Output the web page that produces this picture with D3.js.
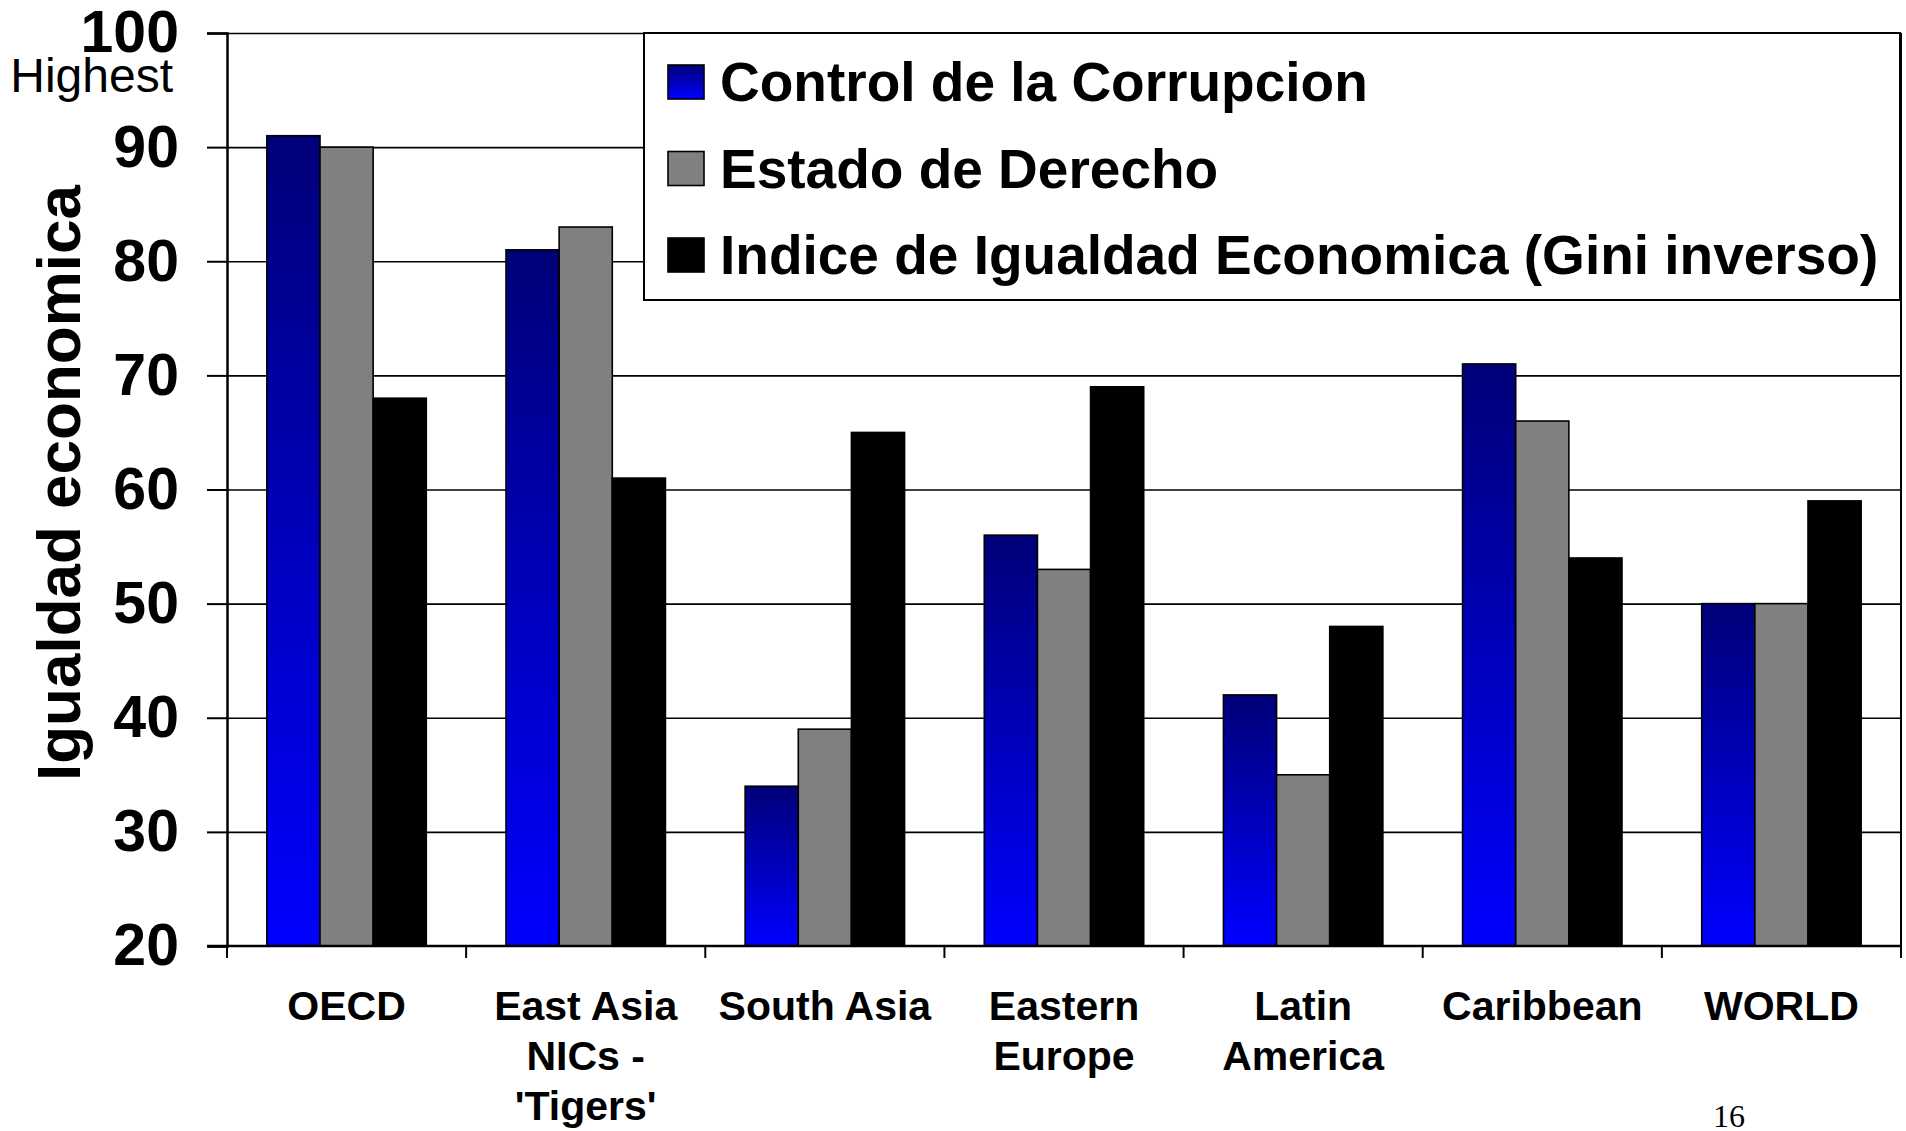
<!DOCTYPE html>
<html>
<head>
<meta charset="utf-8">
<script src="https://cdn.jsdelivr.net/npm/d3@7"></script>
<style>
  body { margin: 0; background: #fff; }
  text { font-family: "Liberation Sans", Arial, sans-serif; }
</style>
</head>
<body>
<div id="chart"></div>
<script>
// data
const categories = ['OECD', "East Asia NICs - 'Tigers'", 'South Asia', 'Eastern Europe', 'Latin America', 'Caribbean', 'WORLD'];
const categoryLines = [['OECD'], ['East Asia', 'NICs -', "'Tigers'"], ['South Asia'], ['Eastern', 'Europe'], ['Latin', 'America'], ['Caribbean'], ['WORLD']];
const seriesNames = ['Control de la Corrupcion', 'Estado de Derecho', 'Indice de Igualdad Economica (Gini inverso)'];
const corrupcion = [91, 81, 34, 56, 42, 71, 50];
const derecho = [90, 83, 39, 53, 35, 66, 50];
const igualdad = [68, 61, 65, 69, 48, 54, 59];
const yTicks = [20, 30, 40, 50, 60, 70, 80, 90, 100];

const values = [corrupcion, derecho, igualdad];
const fills = ['url(#blueGrad)', '#808080', '#000000'];

const width = 1906, height = 1131;
const plotLeft = 227, plotRight = 1901, plotTop = 33, plotBottom = 946;

const svg = d3.select('#chart')
    .append('svg')
    .attr('width', width)
    .attr('height', height)
    .style('display', 'block')
    .style('background', '#fff');

// blue gradient, dark on top
const grad = svg.append('defs')
    .append('linearGradient')
    .attr('id', 'blueGrad')
    .attr('x1', 0).attr('y1', 0)
    .attr('x2', 0).attr('y2', 1);
grad.append('stop').attr('offset', 0).attr('stop-color', '#000078');
grad.append('stop').attr('offset', 1).attr('stop-color', '#0000ff');

const x0 = d3.scaleBand()
    .domain(categories)
    .range([plotLeft, plotRight])
    .padding(0);

const x1 = d3.scaleBand()
    .domain(d3.range(seriesNames.length))
    .range([0, x0.bandwidth()])
    .paddingInner(0)
    .paddingOuter(0.75);

const y = d3.scaleLinear()
    .domain([20, 100])
    .range([plotBottom, plotTop]);

// gridlines
svg.append('g')
    .attr('transform', `translate(${plotLeft},0)`)
    .call(d3.axisLeft(y).tickValues(yTicks.slice(1)).tickSize(-(plotRight - plotLeft)).tickFormat(''))
    .call(g => g.select('.domain').remove())
    .selectAll('line')
    .attr('stroke', '#000')
    .attr('stroke-width', 1.6);

// bars
const groups = svg.append('g')
    .selectAll('g')
    .data(categories)
    .join('g')
    .attr('transform', d => `translate(${x0(d)},0)`);

groups.selectAll('rect')
    .data((d, i) => values.map((s, k) => ({ k: k, v: s[i] })))
    .join('rect')
    .attr('x', d => x1(d.k))
    .attr('y', d => y(d.v))
    .attr('width', x1.bandwidth())
    .attr('height', d => plotBottom - y(d.v))
    .attr('fill', d => fills[d.k])
    .attr('stroke', '#000')
    .attr('stroke-width', 1.6);

// y axis
const yAxis = svg.append('g')
    .attr('transform', `translate(${plotLeft},0)`)
    .call(d3.axisLeft(y).tickValues(yTicks).tickSize(20).tickPadding(28));

yAxis.select('.domain')
    .attr('stroke', '#000')
    .attr('stroke-width', 2.5);
yAxis.selectAll('line')
    .attr('stroke', '#000')
    .attr('stroke-width', 2);
yAxis.selectAll('text')
    .style('font-size', '59px')
    .style('font-weight', 'bold')
    .attr('fill', '#000');

// right border of plot area
svg.append('line')
    .attr('x1', plotRight).attr('x2', plotRight)
    .attr('y1', plotTop).attr('y2', plotBottom)
    .attr('stroke', '#000')
    .attr('stroke-width', 2);

// bottom axis line and category ticks
svg.append('line')
    .attr('x1', plotLeft - 20).attr('x2', plotRight)
    .attr('y1', plotBottom).attr('y2', plotBottom)
    .attr('stroke', '#000')
    .attr('stroke-width', 2.5);

svg.append('g')
    .selectAll('line')
    .data(categories.map(c => x0(c)).concat([plotRight]))
    .join('line')
    .attr('x1', d => d).attr('x2', d => d)
    .attr('y1', plotBottom).attr('y2', plotBottom + 12)
    .attr('stroke', '#000')
    .attr('stroke-width', 2);

// category labels
svg.append('g')
    .selectAll('text')
    .data(categories)
    .join('text')
    .attr('text-anchor', 'middle')
    .style('font-size', '41px')
    .style('font-weight', 'bold')
    .each(function (d, i) {
        d3.select(this).selectAll('tspan')
            .data(categoryLines[i])
            .join('tspan')
            .attr('x', x0(d) + x0.bandwidth() / 2)
            .attr('y', (t, j) => 1020 + j * 50)
            .text(t => t);
    });

// "Highest" under 100
svg.append('text')
    .attr('x', 173)
    .attr('y', 92)
    .attr('text-anchor', 'end')
    .style('font-size', '48px')
    .text('Highest');

// y axis title
svg.append('text')
    .attr('transform', 'translate(80,483) rotate(-90)')
    .attr('text-anchor', 'middle')
    .style('font-size', '62px')
    .style('font-weight', 'bold')
    .text('Igualdad economica');

// legend
const legend = svg.append('g');
legend.append('rect')
    .attr('x', 644).attr('y', plotTop)
    .attr('width', 1256).attr('height', 267)
    .attr('fill', '#fff')
    .attr('stroke', '#000')
    .attr('stroke-width', 2);

const rows = legend.selectAll('g.row')
    .data(seriesNames)
    .join('g')
    .attr('class', 'row')
    .attr('transform', (d, i) => `translate(668,${82 + i * 86.5})`);

rows.append('rect')
    .attr('x', 0).attr('y', -17)
    .attr('width', 36).attr('height', 34)
    .attr('fill', (d, i) => fills[i])
    .attr('stroke', '#000')
    .attr('stroke-width', 1.6);

rows.append('text')
    .attr('x', 52)
    .attr('y', 19)
    .style('font-size', '55px')
    .style('font-weight', 'bold')
    .text(d => d);

// slide number
svg.append('text')
    .attr('x', 1713)
    .attr('y', 1127)
    .style('font-family', '"Liberation Serif", "Times New Roman", serif')
    .style('font-size', '32px')
    .text('16');
</script>
</body>
</html>
